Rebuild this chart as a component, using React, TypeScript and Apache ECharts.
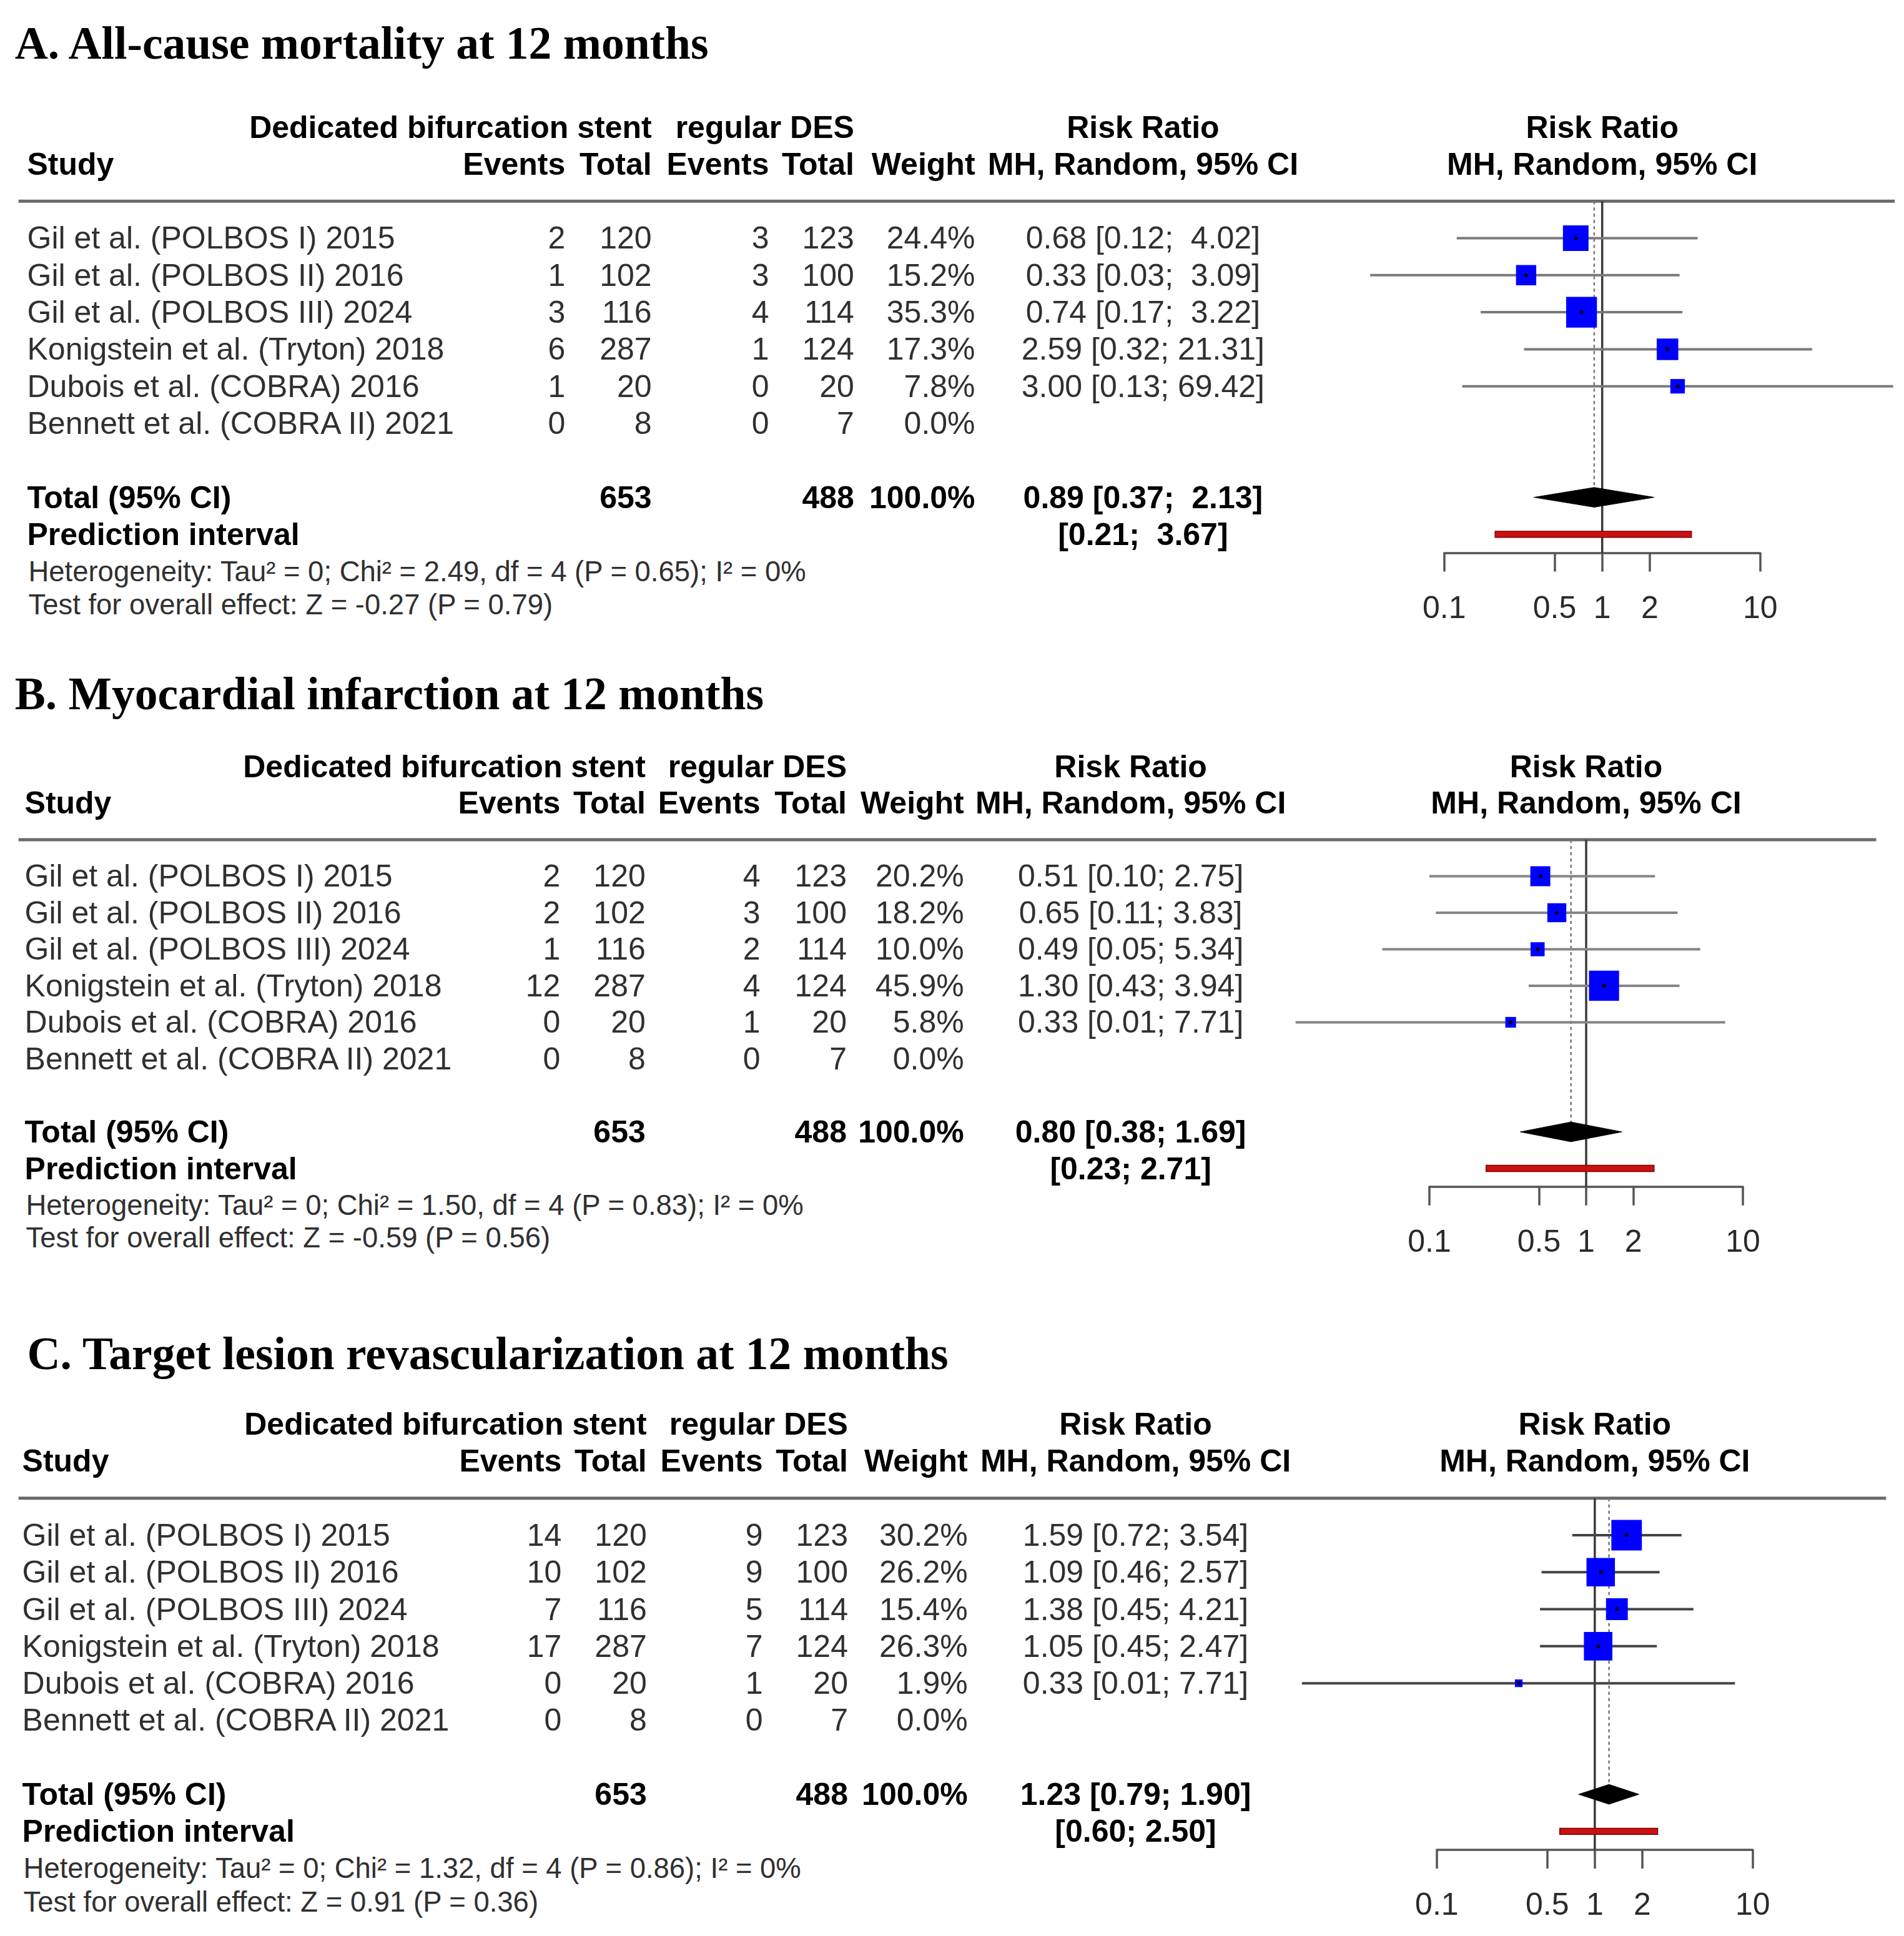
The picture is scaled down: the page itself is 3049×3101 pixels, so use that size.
import React, { useEffect, useRef } from "react";
import * as echarts from "echarts";

const W = 3049;
const H = 3101;
const S = W / 1542.5;
const SANS = '"Liberation Sans", Arial, Helvetica, sans-serif';
const SERIF = '"Liberation Serif", "Times New Roman", serif';

// ---------- data ----------
const studies = [
  "Gil et al. (POLBOS I) 2015",
  "Gil et al. (POLBOS II) 2016",
  "Gil et al. (POLBOS III) 2024",
  "Konigstein et al. (Tryton) 2018",
  "Dubois et al. (COBRA) 2016",
  "Bennett et al. (COBRA II) 2021",
];
const totalE = [120, 102, 116, 287, 20, 8];
const totalC = [123, 100, 114, 124, 20, 7];
const tickValues = [0.1, 0.5, 1, 2, 10];

// A. All-cause mortality
const aEventsE = [2, 1, 3, 6, 1, 0];
const aEventsC = [3, 3, 4, 1, 0, 0];
const aWeight = [24.4, 15.2, 35.3, 17.3, 7.8, 0.0];
const aRR = [0.68, 0.33, 0.74, 2.59, 3.0, null];
const aLower = [0.12, 0.034, 0.17, 0.32, 0.13, null];
const aUpper = [4.02, 3.09, 3.22, 21.31, 69.42, null];
const aPooled = [0.89, 0.37, 2.13];
const aPredict = [0.21, 3.67];
const aStats = { tau2: "0", chi2: "2.49", df: "4", p: "0.65", i2: "0%", z: "-0.27", pz: "0.79" };

// B. Myocardial infarction
const bEventsE = [2, 2, 1, 12, 0, 0];
const bEventsC = [4, 3, 2, 4, 1, 0];
const bWeight = [20.2, 18.2, 10.0, 45.9, 5.8, 0.0];
const bRR = [0.51, 0.65, 0.49, 1.3, 0.33, null];
const bLower = [0.1, 0.11, 0.05, 0.43, 0.014, null];
const bUpper = [2.75, 3.83, 5.34, 3.94, 7.71, null];
const bPooled = [0.8, 0.38, 1.69];
const bPredict = [0.23, 2.71];
const bStats = { tau2: "0", chi2: "1.50", df: "4", p: "0.83", i2: "0%", z: "-0.59", pz: "0.56" };

// C. Target lesion revascularization
const cEventsE = [14, 10, 7, 17, 0, 0];
const cEventsC = [9, 9, 5, 7, 1, 0];
const cWeight = [30.2, 26.2, 15.4, 26.3, 1.9, 0.0];
const cRR = [1.59, 1.09, 1.38, 1.05, 0.33, null];
const cLower = [0.72, 0.46, 0.45, 0.45, 0.014, null];
const cUpper = [3.54, 2.57, 4.21, 2.47, 7.71, null];
const cPooled = [1.23, 0.79, 1.9];
const cPredict = [0.6, 2.5];
const cStats = { tau2: "0", chi2: "1.32", df: "4", p: "0.86", i2: "0%", z: "0.91", pz: "0.36" };

// ---------- layout (reference units, scaled by S) ----------
const panels = [
  {
    title: "A. All-cause mortality at 12 months",
    eventsE: aEventsE, eventsC: aEventsC, weight: aWeight, rr: aRR, lower: aLower, upper: aUpper,
    pooled: aPooled, predict: aPredict, stats: aStats,
    L: { titleX: 12, titleY: 35, row0: 193, step: 30, textX: 22, lineX0: 15, lineX1: 1535,
         cols: [458, 528, 623, 692, 790], rrX: 926, x01: 1170, x10: 1426, sq: 4.2, ciColor: "#7a7a7a" },
  },
  {
    title: "B. Myocardial infarction at 12 months",
    eventsE: bEventsE, eventsC: bEventsC, weight: bWeight, rr: bRR, lower: bLower, upper: bUpper,
    pooled: bPooled, predict: bPredict, stats: bStats,
    L: { titleX: 12, titleY: 562, row0: 710, step: 29.6, textX: 20, lineX0: 15, lineX1: 1520,
         cols: [454, 523, 616, 686, 781], rrX: 916, x01: 1158, x10: 1412, sq: 3.6, ciColor: "#858585" },
  },
  {
    title: "C. Target lesion revascularization at 12 months",
    eventsE: cEventsE, eventsC: cEventsC, weight: cWeight, rr: cRR, lower: cLower, upper: cUpper,
    pooled: cPooled, predict: cPredict, stats: cStats,
    L: { titleX: 22, titleY: 1097, row0: 1244, step: 30, textX: 18, lineX0: 15, lineX1: 1528,
         cols: [455, 524, 618, 687, 784], rrX: 920, x01: 1164, x10: 1420, sq: 4.5, ciColor: "#444444" },
  },
];

const FS = 25.3 * S;
const FS_SMALL = 23 * S;
const FS_TITLE = 37.2 * S;
const NB = "\u00a0";

function buildOption() {
  const grid: any[] = [];
  const xAxis: any[] = [];
  const yAxis: any[] = [];
  const series: any[] = [];
  const tickLogs = tickValues.map((t) => Math.log10(t));

  panels.forEach((p, k) => {
    const L = p.L;
    const top = (L.row0 - L.step) * S;
    const height = 9.5 * L.step * S;
    grid.push({ left: L.x01 * S, width: (L.x10 - L.x01) * S, top, height });
    xAxis.push({
      type: "value",
      gridIndex: k,
      min: -1,
      max: 1,
      position: "bottom",
      axisLine: { show: true, onZero: false, lineStyle: { color: "#555", width: 3.5 } },
      axisTick: { show: true, length: 30, lineStyle: { color: "#555", width: 3.5 }, customValues: tickLogs },
      axisLabel: {
        show: true,
        customValues: tickLogs,
        formatter: (v: number) => {
          const t = tickValues.find((tv) => Math.abs(Math.log10(tv) - v) < 1e-6);
          return t == null ? "" : String(t);
        },
        margin: 62,
        fontSize: FS,
        fontFamily: SANS,
        color: "#2a2a2a",
      },
      splitLine: { show: false },
    });
    yAxis.push({ type: "value", gridIndex: k, min: -1, max: 8.5, inverse: true, show: false });

    // ---- text entries ----
    const fmt = (v: number) => v.toFixed(2);
    const allUp = [...p.upper.filter((v) => v != null), p.pooled[2], p.predict[1]].map((v: any) => fmt(v));
    const allLo = [...p.lower.filter((v) => v != null), p.pooled[1], p.predict[0]].map((v: any) => fmt(v));
    const upLen = Math.max(...allUp.map((s) => s.length));
    const loLen = Math.max(...allLo.map((s) => s.length));
    const ci = (lo: number, hi: number) =>
      `[${fmt(lo).padStart(loLen, NB)};${NB}${fmt(hi).padStart(upLen, NB)}]`;

    const entries: any[] = [];
    const add = (row: number, text: string, x: number | null, align: string, bold = false, size = FS, family = SANS) =>
      entries.push({ kind: "text", row, text, x, align, bold, size, family });

    const titleRow = (L.titleY - L.row0) / L.step;
    add(titleRow, p.title, L.titleX, "left", true, FS_TITLE, SERIF);
    add(-3, "Dedicated bifurcation stent", L.cols[1], "right", true);
    add(-3, "regular DES", L.cols[3], "right", true);
    add(-3, "Risk Ratio", L.rrX, "center", true);
    add(-3, "Risk Ratio", null, "center", true);
    add(-2, "Study", L.textX, "left", true);
    add(-2, "Events", L.cols[0], "right", true);
    add(-2, "Total", L.cols[1], "right", true);
    add(-2, "Events", L.cols[2], "right", true);
    add(-2, "Total", L.cols[3], "right", true);
    add(-2, "Weight", L.cols[4], "right", true);
    add(-2, "MH, Random, 95% CI", L.rrX, "center", true);
    add(-2, "MH, Random, 95% CI", null, "center", true);
    entries.push({ kind: "hline", row: -1, x0: L.lineX0, x1: L.lineX1 });

    studies.forEach((name, i) => {
      add(i, name, L.textX, "left");
      add(i, String(p.eventsE[i]), L.cols[0], "right");
      add(i, String(totalE[i]), L.cols[1], "right");
      add(i, String(p.eventsC[i]), L.cols[2], "right");
      add(i, String(totalC[i]), L.cols[3], "right");
      add(i, p.weight[i].toFixed(1) + "%", L.cols[4], "right");
      const r = p.rr[i];
      if (r != null) add(i, `${fmt(r)} ${ci(p.lower[i] as number, p.upper[i] as number)}`, L.rrX, "center");
    });
    const sumE = totalE.reduce((a, b) => a + b, 0);
    const sumC = totalC.reduce((a, b) => a + b, 0);
    const sumW = p.weight.reduce((a, b) => a + b, 0);
    add(7, "Total (95% CI)", L.textX, "left", true);
    add(7, String(sumE), L.cols[1], "right", true);
    add(7, String(sumC), L.cols[3], "right", true);
    add(7, Math.round(sumW).toFixed(1) + "%", L.cols[4], "right", true);
    add(7, `${fmt(p.pooled[0])} ${ci(p.pooled[1], p.pooled[2])}`, L.rrX, "center", true);
    add(8, "Prediction interval", L.textX, "left", true);
    add(8, ci(p.predict[0], p.predict[1]), L.rrX, "center", true);
    const st = p.stats;
    add(9, `Heterogeneity: Tau² = ${st.tau2}; Chi² = ${st.chi2}, df = ${st.df} (P = ${st.p}); I² = ${st.i2}`, L.textX + 1, "left", false, FS_SMALL);
    add(9.9, `Test for overall effect: Z = ${st.z} (P = ${st.pz})`, L.textX + 1, "left", false, FS_SMALL);

    series.push({
      type: "custom",
      xAxisIndex: k,
      yAxisIndex: k,
      clip: false,
      silent: true,
      z: 1,
      encode: { x: 0, y: 1 },
      data: entries.map((e) => [0, e.row]),
      renderItem: (params: any, api: any) => {
        const e = entries[params.dataIndex];
        const pt = api.coord([0, e.row]);
        if (e.kind === "hline") {
          return {
            type: "line",
            shape: { x1: e.x0 * S, y1: pt[1], x2: e.x1 * S, y2: pt[1] },
            style: { stroke: "#6a6a6a", lineWidth: 5 },
          };
        }
        const x = e.x == null ? pt[0] : e.x * S;
        return {
          type: "text",
          x,
          y: pt[1],
          style: {
            text: e.text,
            fill: e.bold ? "#000" : "#303030",
            font: `${e.bold ? "bold " : ""}${e.size}px ${e.family}`,
            align: e.align,
            verticalAlign: "middle",
            textAlign: e.align,
            textVerticalAlign: "middle",
          },
        };
      },
    });

    // ---- reference lines ----
    const dh = 8 * S;
    series.push({
      type: "custom",
      xAxisIndex: k,
      yAxisIndex: k,
      clip: false,
      silent: true,
      z: 2,
      encode: { x: 0, y: [1, 2] },
      data: [
        [0, -1, 8.5, 0],
        [Math.log10(p.pooled[0]), -1, 7, 1],
      ],
      renderItem: (params: any, api: any) => {
        const a = api.coord([api.value(0), api.value(1)]);
        const b = api.coord([api.value(0), api.value(2)]);
        const dotted = api.value(3) === 1;
        return {
          type: "line",
          shape: { x1: a[0], y1: a[1], x2: b[0], y2: dotted ? b[1] - dh : b[1] },
          style: dotted
            ? { stroke: "#777", lineWidth: 2.5, lineDash: [5, 5] }
            : { stroke: "#3a3a3a", lineWidth: 3.5 },
        };
      },
    });

    // ---- study CIs and squares ----
    const ciData: any[] = [];
    p.rr.forEach((r, i) => {
      if (r == null) return;
      ciData.push([Math.log10(r), Math.log10(p.lower[i] as number), Math.log10(p.upper[i] as number), p.weight[i], i]);
    });
    series.push({
      type: "custom",
      xAxisIndex: k,
      yAxisIndex: k,
      clip: false,
      silent: true,
      z: 3,
      encode: { x: [0, 1, 2], y: 4 },
      data: ciData,
      renderItem: (params: any, api: any) => {
        const row = api.value(4);
        const c = api.coord([api.value(0), row]);
        const lo = api.coord([api.value(1), row]);
        const hi = api.coord([api.value(2), row]);
        const side = L.sq * Math.sqrt(api.value(3)) * S;
        return {
          type: "group",
          children: [
            { type: "line", shape: { x1: lo[0], y1: c[1], x2: hi[0], y2: c[1] }, style: { stroke: L.ciColor, lineWidth: 4 } },
            { type: "rect", shape: { x: c[0] - side / 2, y: c[1] - side / 2, width: side, height: side }, style: { fill: "#0000ff" } },
            { type: "circle", shape: { cx: c[0], cy: c[1], r: 3 }, style: { fill: "#000" } },
          ],
        };
      },
    });

    // ---- pooled diamond ----
    series.push({
      type: "custom",
      xAxisIndex: k,
      yAxisIndex: k,
      clip: false,
      silent: true,
      z: 4,
      encode: { x: [0, 1, 2], y: 3 },
      data: [[Math.log10(p.pooled[0]), Math.log10(p.pooled[1]), Math.log10(p.pooled[2]), 7]],
      renderItem: (params: any, api: any) => {
        const row = api.value(3);
        const c = api.coord([api.value(0), row]);
        const lo = api.coord([api.value(1), row]);
        const hi = api.coord([api.value(2), row]);
        return {
          type: "polygon",
          shape: { points: [[lo[0], c[1]], [c[0], c[1] - dh], [hi[0], c[1]], [c[0], c[1] + dh]] },
          style: { fill: "#000", stroke: "#000", lineWidth: 1 },
        };
      },
    });

    // ---- prediction interval ----
    series.push({
      type: "custom",
      xAxisIndex: k,
      yAxisIndex: k,
      clip: false,
      silent: true,
      z: 4,
      encode: { x: [0, 1], y: 2 },
      data: [[Math.log10(p.predict[0]), Math.log10(p.predict[1]), 8]],
      renderItem: (params: any, api: any) => {
        const row = api.value(2);
        const lo = api.coord([api.value(0), row]);
        const hi = api.coord([api.value(1), row]);
        const h = 5 * S;
        return {
          type: "rect",
          shape: { x: lo[0], y: lo[1] - h / 2, width: hi[0] - lo[0], height: h },
          style: { fill: "#cc1111", stroke: "#7a0000", lineWidth: 1.5 },
        };
      },
    });
  });

  return {
    animation: false,
    backgroundColor: "#ffffff",
    grid,
    xAxis,
    yAxis,
    series,
  };
}

export default function App() {
  const ref = useRef<HTMLDivElement>(null);
  useEffect(() => {
    if (!ref.current) return;
    const chart = echarts.init(ref.current, undefined, { renderer: "svg", width: W, height: H });
    chart.setOption(buildOption() as any);
    return () => chart.dispose();
  }, []);
  return (
    <div
      ref={ref}
      style={{ position: "absolute", left: 0, top: 0, width: W, height: H, background: "#fff" }}
    />
  );
}
